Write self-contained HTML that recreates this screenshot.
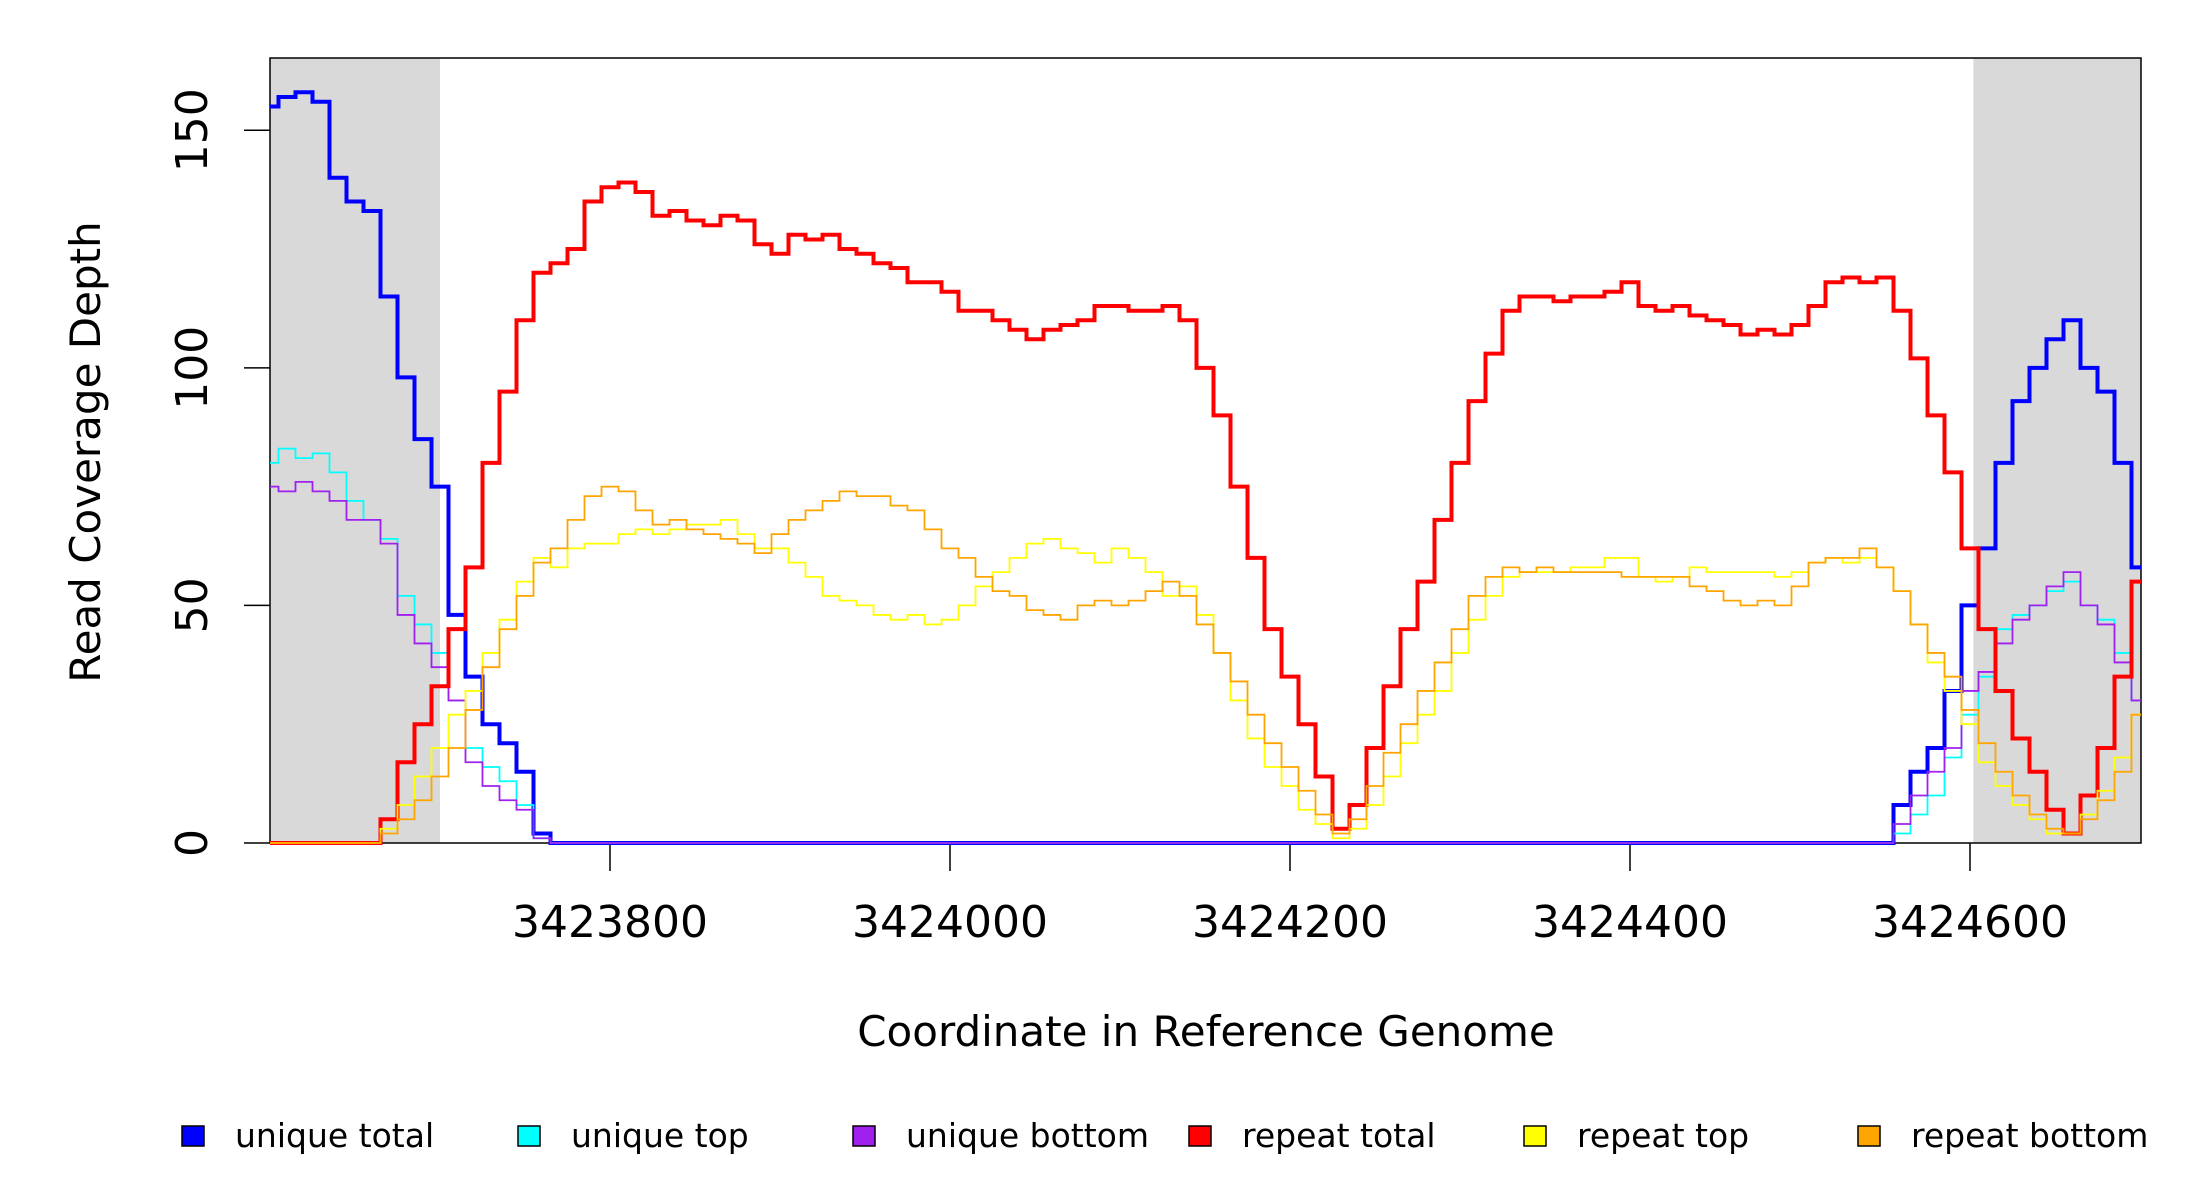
<!DOCTYPE html>
<html><head><meta charset="utf-8"><style>
html,body{margin:0;padding:0;background:#fff;}
svg{display:block;font-family:"DejaVu Sans","Liberation Sans",sans-serif;}
</style></head><body>
<svg id="chart" width="2200" height="1200" viewBox="0 0 2200 1200" xmlns="http://www.w3.org/2000/svg">
<g id="bg"></g><g id="axes"></g><g id="series"></g>
<text x="0" y="0" transform="translate(100,452) rotate(-90)" text-anchor="middle" font-size="42">Read Coverage Depth</text>
<text x="1206" y="1046" text-anchor="middle" font-size="42">Coordinate in Reference Genome</text>
<g id="legend"></g>
</svg>
<script>
const xStart = 3423600;
const xStep = 10;
const xTicks = [3423800, 3424000, 3424200, 3424400, 3424600];
const yTicks = [0, 50, 100, 150];
const shadedRegions = [[3423600, 3423700], [3424602, 3424702]];
const seriesNames = ["unique total","unique top","unique bottom","repeat total","repeat top","repeat bottom"];
const Z = n => Array(n).fill(0);
const uniqueTotal = [155,157,158,156,140,135,133,115,98,85,75,48,35,25,21,15,2].concat(Z(79),[8,15,20,32,50,62,80,93,100,106,110,100,95,80,58]);
const uniqueTop = [80,83,81,82,78,72,68,64,52,46,40,30,20,16,13,8,1].concat(Z(79),[2,6,10,18,27,35,45,48,50,53,55,50,47,40,30]);
const uniqueBottom = [75,74,76,74,72,68,68,63,48,42,37,30,17,12,9,7,1].concat(Z(79),[4,10,15,20,32,36,42,47,50,54,57,50,46,38,30]);
const repeatTotal = [0,0,0,0,0,0,0,5,17,25,33,45,58,80,95,110,120,122,125,135,138,139,137,132,133,131,130,132,131,126,124,128,127,128,125,124,122,121,118,118,116,112,112,110,108,106,108,109,110,113,113,112,112,113,110,100,90,75,60,45,35,25,14,3,8,20,33,45,55,68,80,93,103,112,115,115,114,115,115,116,118,113,112,113,111,110,109,107,108,107,109,113,118,119,118,119,112,102,90,78,62,45,32,22,15,7,2,10,20,35,55];
const repeatTop = [0,0,0,0,0,0,0,3,8,14,20,27,32,40,47,55,60,58,62,63,63,65,66,65,66,67,67,68,65,62,62,59,56,52,51,50,48,47,48,46,47,50,54,57,60,63,64,62,61,59,62,60,57,52,54,48,40,30,22,16,12,7,4,1,3,8,14,21,27,32,40,47,52,56,57,57,57,58,58,60,60,56,55,56,58,57,57,57,57,56,57,59,60,59,60,58,53,46,38,32,25,17,12,8,5,2,2,6,11,18,27];
const repeatBottom = [0,0,0,0,0,0,0,2,5,9,14,20,28,37,45,52,59,62,68,73,75,74,70,67,68,66,65,64,63,61,65,68,70,72,74,73,73,71,70,66,62,60,56,53,52,49,48,47,50,51,50,51,53,55,52,46,40,34,27,21,16,11,6,2,5,12,19,25,32,38,45,52,56,58,57,58,57,57,57,57,56,56,56,56,54,53,51,50,51,50,54,59,60,60,62,58,53,46,40,35,28,21,15,10,6,3,2,5,9,15,27];

const NS="http://www.w3.org/2000/svg";
const L=270,R=2141,T=58,B=843,YMAX=165.2;
const xs = v => 610 + (v-3423800)*1.7;
const ys = v => B - v*(B-T)/YMAX;
function mk(tag, attrs, parent){const e=document.createElementNS(NS,tag);for(const k in attrs)e.setAttribute(k,attrs[k]);parent.appendChild(e);return e;}
const bg=document.getElementById('bg'), sg=document.getElementById('series'), ax=document.getElementById('axes'), lg=document.getElementById('legend');
shadedRegions.forEach(r=>{
  const x0=Math.max(L,xs(r[0])), x1=Math.min(R,xs(r[1]));
  const e=mk('rect',{x:x0,y:T,width:x1-x0,height:B-T,fill:'#d9d9d9'},bg);
  
  
});
const colors=["#0000ff","#00ffff","#a020f0","#ff0000","#ffff00","#ffa500"];
const widths=[4,1.8,1.8,4,1.8,1.8];
const data=[uniqueTotal,uniqueTop,uniqueBottom,repeatTotal,repeatTop,repeatBottom];
const clampX = x => Math.max(L, Math.min(R, x));
[0,1,2,3,4,5].forEach(s=>{
  const arr=data[s]; let d='';
  arr.forEach((v,i)=>{
    const c=xStart+i*xStep;
    const x0=clampX(xs(c-xStep/2)), x1=clampX(xs(c+xStep/2)), y=ys(v);
    if(i===0)d+='M'+x0+' '+y; else d+=' V'+y;
    d+=' H'+x1;
  });
  d+=' H'+R;
  const p=mk('path',{d:d,fill:'none',stroke:colors[s],'stroke-width':widths[s]},sg);
  
  
});
const box=mk('rect',{x:L,y:T,width:R-L,height:B-T,fill:'none',stroke:'#000','stroke-width':1.5},ax);


yTicks.forEach(v=>{
  mk('line',{x1:244,y1:ys(v),x2:L,y2:ys(v),stroke:'#000','stroke-width':1.5},ax);
  const t=mk('text',{transform:'translate(207,'+ys(v)+') rotate(-90)','text-anchor':'middle','font-size':44},ax);
  t.textContent=v;
  
  
});
xTicks.forEach(v=>{
  mk('line',{x1:xs(v),y1:B,x2:xs(v),y2:871,stroke:'#000','stroke-width':1.5},ax);
  const t=mk('text',{x:xs(v),y:937,'text-anchor':'middle','font-size':44},ax);
  t.textContent=v;
  
  
});
const lx=[182,518,853,1189,1524,1858];
seriesNames.forEach((n,i)=>{
  const g=mk('g',{},lg);
  
  
  mk('rect',{x:lx[i],y:1126,width:22,height:20,fill:colors[i],stroke:'#000','stroke-width':1.5},g);
  const t=mk('text',{x:lx[i]+53,y:1147,'font-size':33},g);
  t.textContent=n;
});
</script>
</body></html>
